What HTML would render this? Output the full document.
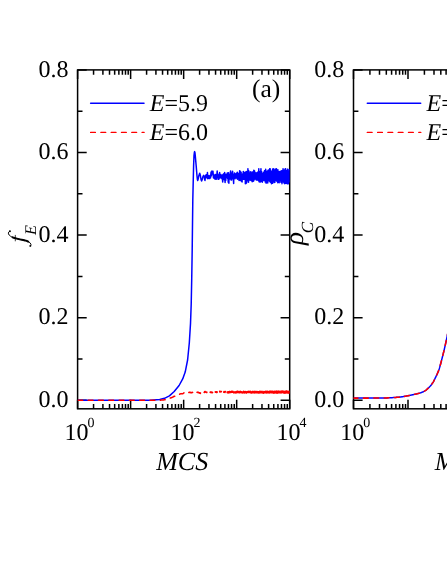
<!DOCTYPE html>
<html><head><meta charset="utf-8"><title>figure</title>
<style>
html,body{margin:0;padding:0;background:#fff;}
body{width:447px;height:578px;overflow:hidden;}
svg{display:block;}
text{font-family:"Liberation Serif",serif;fill:#000;text-rendering:geometricPrecision;}
</style></head><body>
<svg width="447" height="578" viewBox="0 0 447 578">
<rect width="447" height="578" fill="#fff"/>
<defs>
<filter id="ff" x="0" y="0" width="447" height="578" filterUnits="userSpaceOnUse"><feOffset dx="0" dy="0"/></filter>
<clipPath id="ca"><rect x="77.6" y="69.9" width="212.1" height="338.9"/></clipPath>
<clipPath id="cb"><rect x="353.5" y="69.9" width="212.1" height="338.9"/></clipPath>
</defs>
<rect x="77.60" y="69.90" width="212.10" height="338.90" fill="none" stroke="#000" stroke-width="1.5"/>
<path d="M77.60 400.25h9.1M289.70 400.25h-9.1M77.60 358.96h4.9M289.70 358.96h-4.9M77.60 317.67h9.1M289.70 317.67h-9.1M77.60 276.38h4.9M289.70 276.38h-4.9M77.60 235.09h9.1M289.70 235.09h-9.1M77.60 193.80h4.9M289.70 193.80h-4.9M77.60 152.51h9.1M289.70 152.51h-9.1M77.60 111.22h4.9M289.70 111.22h-4.9M77.60 69.93h9.1M289.70 69.93h-9.1M77.60 408.80v-9.1M77.60 69.90v9.1M93.56 408.80v-4.9M93.56 69.90v4.9M102.90 408.80v-4.9M102.90 69.90v4.9M109.52 408.80v-4.9M109.52 69.90v4.9M114.66 408.80v-4.9M114.66 69.90v4.9M118.86 408.80v-4.9M118.86 69.90v4.9M122.41 408.80v-4.9M122.41 69.90v4.9M125.49 408.80v-4.9M125.49 69.90v4.9M128.20 408.80v-4.9M128.20 69.90v4.9M130.62 408.80v-9.1M130.62 69.90v9.1M146.59 408.80v-4.9M146.59 69.90v4.9M155.92 408.80v-4.9M155.92 69.90v4.9M162.55 408.80v-4.9M162.55 69.90v4.9M167.69 408.80v-4.9M167.69 69.90v4.9M171.89 408.80v-4.9M171.89 69.90v4.9M175.44 408.80v-4.9M175.44 69.90v4.9M178.51 408.80v-4.9M178.51 69.90v4.9M181.22 408.80v-4.9M181.22 69.90v4.9M183.65 408.80v-9.1M183.65 69.90v9.1M199.61 408.80v-4.9M199.61 69.90v4.9M208.95 408.80v-4.9M208.95 69.90v4.9M215.57 408.80v-4.9M215.57 69.90v4.9M220.71 408.80v-4.9M220.71 69.90v4.9M224.91 408.80v-4.9M224.91 69.90v4.9M228.46 408.80v-4.9M228.46 69.90v4.9M231.54 408.80v-4.9M231.54 69.90v4.9M234.25 408.80v-4.9M234.25 69.90v4.9M236.67 408.80v-9.1M236.67 69.90v9.1M252.64 408.80v-4.9M252.64 69.90v4.9M261.97 408.80v-4.9M261.97 69.90v4.9M268.60 408.80v-4.9M268.60 69.90v4.9M273.74 408.80v-4.9M273.74 69.90v4.9M277.94 408.80v-4.9M277.94 69.90v4.9M281.49 408.80v-4.9M281.49 69.90v4.9M284.56 408.80v-4.9M284.56 69.90v4.9M287.27 408.80v-4.9M287.27 69.90v4.9M289.70 408.80v-9.1M289.70 69.90v9.1" stroke="#000" stroke-width="1.5" fill="none"/>
<rect x="353.50" y="69.90" width="212.10" height="338.90" fill="none" stroke="#000" stroke-width="1.5"/>
<path d="M353.50 400.25h9.1M565.60 400.25h-9.1M353.50 358.96h4.9M565.60 358.96h-4.9M353.50 317.67h9.1M565.60 317.67h-9.1M353.50 276.38h4.9M565.60 276.38h-4.9M353.50 235.09h9.1M565.60 235.09h-9.1M353.50 193.80h4.9M565.60 193.80h-4.9M353.50 152.51h9.1M565.60 152.51h-9.1M353.50 111.22h4.9M565.60 111.22h-4.9M353.50 69.93h9.1M565.60 69.93h-9.1M353.50 408.80v-9.1M353.50 69.90v9.1M369.91 408.80v-4.9M369.91 69.90v4.9M379.50 408.80v-4.9M379.50 69.90v4.9M386.31 408.80v-4.9M386.31 69.90v4.9M391.59 408.80v-4.9M391.59 69.90v4.9M395.91 408.80v-4.9M395.91 69.90v4.9M399.56 408.80v-4.9M399.56 69.90v4.9M402.72 408.80v-4.9M402.72 69.90v4.9M405.51 408.80v-4.9M405.51 69.90v4.9M408.00 408.80v-9.1M408.00 69.90v9.1M424.41 408.80v-4.9M424.41 69.90v4.9M434.00 408.80v-4.9M434.00 69.90v4.9M440.81 408.80v-4.9M440.81 69.90v4.9M446.09 408.80v-4.9M446.09 69.90v4.9M450.41 408.80v-4.9M450.41 69.90v4.9M454.06 408.80v-4.9M454.06 69.90v4.9M457.22 408.80v-4.9M457.22 69.90v4.9M460.01 408.80v-4.9M460.01 69.90v4.9M462.50 408.80v-9.1M462.50 69.90v9.1M478.91 408.80v-4.9M478.91 69.90v4.9M488.50 408.80v-4.9M488.50 69.90v4.9M495.31 408.80v-4.9M495.31 69.90v4.9M500.59 408.80v-4.9M500.59 69.90v4.9M504.91 408.80v-4.9M504.91 69.90v4.9M508.56 408.80v-4.9M508.56 69.90v4.9M511.72 408.80v-4.9M511.72 69.90v4.9M514.51 408.80v-4.9M514.51 69.90v4.9M517.00 408.80v-9.1M517.00 69.90v9.1M533.41 408.80v-4.9M533.41 69.90v4.9M543.00 408.80v-4.9M543.00 69.90v4.9M549.81 408.80v-4.9M549.81 69.90v4.9M555.09 408.80v-4.9M555.09 69.90v4.9M559.41 408.80v-4.9M559.41 69.90v4.9M563.06 408.80v-4.9M563.06 69.90v4.9M566.22 408.80v-4.9M566.22 69.90v4.9M569.01 408.80v-4.9M569.01 69.90v4.9M571.50 408.80v-9.1M571.50 69.90v9.1" stroke="#000" stroke-width="1.5" fill="none"/>
<g fill="none" stroke-linejoin="round" clip-path="url(#ca)">
<path d="M77.60,400.30 150.00,400.25 159.70,399.50 164.50,398.30 169.40,395.90 174.20,391.50 179.10,385.50 182.70,378.90 185.20,372.10 187.60,360.00 189.30,343.00 190.50,323.60 191.20,304.20 191.70,280.00 192.20,250.00 192.80,200.00 193.10,186.70 193.60,166.00 194.00,155.60 194.40,152.30 194.66,151.60 194.95,152.70 195.30,156.00 196.20,166.00 197.00,176.00 197.40,179.60 197.70,180.50 198.10,179.30 198.90,175.50 199.70,173.20 200.40,175.50 201.10,179.80 201.60,181.00 202.20,179.50 203.00,176.50 203.70,175.30 204.29,176.38 204.66,179.64 205.03,180.45 205.39,176.51 205.74,175.65 206.09,174.79 206.44,177.16 206.78,176.46 207.11,178.18 207.44,172.46 207.77,178.77 208.09,176.93 208.41,178.18 208.72,176.62 209.03,175.49 209.33,177.14 209.63,178.60 209.93,176.61 210.22,176.04 210.51,177.88 210.79,174.73 211.07,172.06 211.35,175.78 211.63,174.48 211.90,170.99 212.17,172.46 212.43,173.82 212.70,172.52 212.96,171.34 213.21,174.65 213.47,177.91 213.72,176.30 213.96,174.49 214.21,176.60 214.45,178.15 214.69,176.22 214.93,177.60 215.17,179.30 215.40,176.84 215.63,174.51 215.86,176.52 216.09,176.98 216.31,179.22 216.53,174.19 216.75,173.95 216.97,173.44 217.19,171.07 217.40,174.78 217.61,177.05 217.82,174.76 218.03,179.14 218.24,179.30 218.44,178.88 218.64,178.18 218.84,179.29 219.04,174.10 219.24,177.03 219.43,178.02 219.63,172.60 219.82,175.85 220.01,175.53 220.20,177.94 220.39,175.80 220.57,176.08 220.76,177.06 220.94,174.43 221.12,177.10 221.30,176.33 221.48,177.51 221.66,175.45 221.84,178.65 222.01,178.60 222.18,176.67 222.36,177.97 222.53,179.95 222.70,181.94 222.87,174.44 223.03,177.80 223.20,177.96 223.36,176.65 223.53,173.97 223.69,178.55 223.85,174.01 224.01,176.88 224.17,179.68 224.33,173.58 224.49,174.61 224.64,172.52 224.80,175.57 224.95,179.73 225.10,182.43 225.25,174.11 225.41,174.13 225.55,177.26 225.70,180.48 225.85,178.79 226.00,175.35 226.14,176.69 226.29,176.40 226.43,175.84 226.58,174.35 226.72,176.56 226.86,177.14 227.00,176.37 227.14,175.78 227.28,172.99 227.42,173.96 227.56,178.42 227.69,176.58 227.83,172.89 227.96,178.36 228.10,178.31 228.23,182.14 228.36,178.50 228.49,175.94 228.63,172.65 228.76,178.25 228.89,183.24 229.01,176.73 229.14,174.87 229.27,177.25 229.40,174.61 229.52,175.05 229.65,175.01 229.77,176.32 229.90,178.97 230.02,177.29 230.14,178.89 230.26,176.18 230.39,177.06 230.51,171.36 230.63,171.04 230.75,176.40 230.86,174.90 230.98,177.22 231.10,177.94 231.22,180.10 231.33,179.61 231.45,179.94 231.57,177.30 231.68,174.95 231.79,174.04 231.91,174.32 232.02,172.85 232.13,173.76 232.24,175.19 232.36,176.52 232.47,175.55 232.58,171.35 232.69,174.39 232.80,176.18 232.91,178.90 233.01,178.62 233.12,175.54 233.23,174.27 233.34,180.49 233.44,179.61 233.55,181.92 233.65,183.46 233.76,176.81 233.86,177.42 233.97,177.81 234.07,178.19 234.17,178.28 234.27,177.49 234.38,177.14 234.48,172.93 234.58,174.72 234.68,173.92 234.78,175.78 234.88,174.98 234.98,177.34 235.08,178.66 235.18,177.88 235.27,177.62 235.37,176.99 235.47,175.45 235.57,175.60 235.66,174.85 235.76,176.74 235.85,176.49 235.95,177.78 236.04,173.58 236.14,177.51 236.23,174.87 236.33,174.01 236.42,175.02 236.51,174.48 236.61,176.37 236.70,174.93 236.79,173.21 236.88,173.16 236.97,178.40 237.06,177.14 237.15,173.75 237.24,175.43 237.33,172.20 237.42,179.23 237.51,173.61 237.60,176.52 237.69,177.70 237.78,173.26 237.86,175.97 237.95,178.61 238.04,178.25 238.13,177.62 238.21,179.07 238.30,177.66 238.38,177.60 238.47,176.45 238.55,177.89 238.64,174.56 238.72,177.62 238.81,175.53 238.89,173.37 238.97,176.17 239.06,180.38 239.14,180.07 239.22,176.36 239.31,178.02 239.39,175.80 239.47,175.82 239.55,176.35 239.63,170.67 239.71,174.80 239.79,173.27 239.87,173.54 239.95,171.74 240.03,171.01 240.11,172.15 240.19,176.86 240.27,180.55 240.35,177.73 240.43,179.46 240.51,176.76 240.58,171.80 240.66,175.09 240.74,176.96 240.82,175.49 240.89,176.75 240.97,177.85 241.05,174.74 241.12,172.16 241.20,174.31 241.27,175.09 241.35,175.02 241.42,178.26 241.50,181.19 241.57,177.00 241.65,178.25 241.72,179.27 241.80,179.08 241.87,179.82 241.94,176.59 242.02,178.20 242.09,181.90 242.16,180.22 242.23,176.16 242.31,177.73 242.38,179.88 242.45,178.45 242.52,175.68 242.59,179.84 242.66,174.49 242.73,176.89 242.81,176.47 242.88,173.45 242.95,178.27 243.02,177.84 243.09,174.00 243.16,176.96 243.22,175.48 243.29,171.38 243.36,172.90 243.43,175.75 243.50,177.66 243.57,177.18 243.64,176.72 243.71,177.59 243.77,176.24 243.84,179.15 243.91,177.66 243.97,177.49 244.04,178.03 244.11,174.33 244.18,173.88 244.24,179.18 244.31,178.12 244.37,176.25 244.44,177.11 244.51,175.41 244.57,176.67 244.64,174.81 244.70,176.45 244.77,172.51 244.83,178.22 244.90,175.72 244.96,172.24 245.09,174.71 245.15,176.11 245.22,173.44 245.28,176.27 245.34,183.84 245.41,176.27 245.47,177.11 245.53,175.83 245.59,176.60 245.66,171.99 245.72,171.99 245.84,176.07 245.90,180.20 245.97,175.95 246.03,176.60 246.09,183.50 246.21,174.33 246.27,175.52 246.39,178.22 246.45,177.29 246.51,174.80 246.57,176.29 246.63,182.73 246.75,171.39 246.81,174.24 246.87,173.45 246.93,176.82 246.99,176.06 247.05,180.92 247.11,180.19 247.17,179.83 247.28,176.79 247.34,177.30 247.40,179.81 247.46,178.83 247.51,176.33 247.57,179.42 247.63,177.86 247.68,176.66 247.80,174.29 247.86,174.05 247.91,168.76 247.97,176.12 248.02,177.62 248.08,176.24 248.14,178.83 248.19,178.25 248.30,170.83 248.36,173.82 248.47,180.37 248.53,182.21 248.64,175.41 248.69,170.63 248.80,176.16 248.85,178.60 248.91,176.80 248.96,177.01 249.02,172.89 249.07,176.20 249.12,175.18 249.18,176.76 249.23,177.58 249.28,176.46 249.34,177.13 249.39,176.56 249.44,178.24 249.50,178.20 249.60,174.63 249.65,179.97 249.71,177.34 249.76,179.08 249.81,178.23 249.91,174.23 249.97,175.87 250.07,177.96 250.12,173.80 250.22,175.25 250.27,179.83 250.33,171.79 250.38,175.79 250.43,174.81 250.48,176.83 250.53,175.29 250.58,176.83 250.63,180.30 250.68,178.56 250.73,178.15 250.83,175.02 250.88,177.17 250.98,174.25 251.03,175.49 251.08,175.46 251.13,177.84 251.18,176.74 251.22,175.16 251.27,179.45 251.32,179.81 251.37,180.62 251.42,179.29 251.47,177.08 251.56,175.36 251.61,178.28 251.71,173.02 251.76,175.06 251.80,172.42 251.85,175.34 251.90,173.03 251.95,172.08 251.99,175.11 252.04,175.69 252.09,172.04 252.14,176.63 252.18,181.69 252.23,174.58 252.28,180.13 252.32,175.96 252.37,174.98 252.42,175.40 252.46,172.46 252.56,178.14 252.60,175.11 252.65,175.21 252.69,172.22 252.74,174.03 252.79,177.79 252.83,172.64 252.88,173.96 252.97,178.69 253.01,180.42 253.10,174.61 253.15,176.81 253.24,175.30 253.28,178.58 253.33,181.22 253.37,178.67 253.42,176.66 253.46,177.82 253.51,172.23 253.55,174.83 253.60,173.20 253.64,181.04 253.68,179.71 253.77,176.37 253.82,170.20 253.90,180.13 253.95,175.86 254.03,178.59 254.08,173.33 254.16,180.04 254.21,178.16 254.25,176.80 254.29,178.39 254.33,173.28 254.38,175.47 254.42,178.58 254.46,174.07 254.55,175.85 254.59,171.07 254.72,175.99 254.76,173.34 254.80,177.82 254.88,176.72 254.93,175.00 255.01,178.77 255.05,177.69 255.09,175.82 255.13,173.08 255.22,178.68 255.26,176.34 255.30,176.91 255.38,173.02 255.42,173.14 255.50,176.94 255.54,174.71 255.58,177.54 255.70,179.26 255.75,176.64 255.79,176.14 255.83,177.40 255.87,176.60 255.91,178.34 255.95,173.96 255.99,178.96 256.03,175.33 256.06,175.56 256.10,172.68 256.18,179.47 256.22,180.02 256.34,173.47 256.38,174.18 256.42,173.28 256.46,177.98 256.50,177.34 256.54,176.60 256.58,177.59 256.65,173.43 256.69,173.15 256.81,178.01 256.85,179.53 256.88,174.12 256.96,175.91 257.00,172.88 257.11,179.55 257.15,180.06 257.23,176.28 257.26,178.92 257.30,176.31 257.38,179.82 257.41,176.64 257.45,174.93 257.56,177.92 257.60,177.25 257.64,177.99 257.67,172.99 257.71,173.05 257.75,175.56 257.86,171.90 257.90,172.52 258.00,175.79 258.04,180.25 258.08,177.32 258.15,178.22 258.19,174.24 258.26,173.44 258.29,177.17 258.33,173.79 258.37,178.65 258.44,172.15 258.47,176.76 258.51,180.24 258.55,175.75 258.58,178.51 258.62,172.69 258.69,172.03 258.72,175.98 258.76,171.83 258.79,168.76 258.86,181.23 258.90,176.58 258.93,178.42 259.00,175.87 259.04,177.65 259.07,180.77 259.11,174.86 259.14,177.17 259.18,177.44 259.21,173.23 259.28,182.05 259.32,175.99 259.35,180.43 259.42,176.46 259.45,180.02 259.52,177.74 259.56,180.50 259.59,180.91 259.69,171.74 259.73,177.45 259.83,173.58 259.86,174.90 259.90,172.69 259.93,179.01 259.96,174.77 260.00,175.47 260.06,178.98 260.10,173.78 260.13,175.34 260.23,177.80 260.26,175.69 260.33,175.52 260.36,177.17 260.39,176.35 260.43,174.72 260.49,176.97 260.52,182.06 260.56,177.12 260.62,180.23 260.66,172.61 260.69,170.76 260.79,181.56 260.82,179.09 260.85,180.22 260.95,168.76 260.98,176.11 261.07,177.96 261.11,173.13 261.14,177.95 261.17,180.42 261.23,173.45 261.27,177.36 261.30,174.00 261.33,177.60 261.36,173.84 261.42,176.92 261.45,175.46 261.52,176.01 261.55,171.59 261.58,173.98 261.61,174.52 261.67,173.61 261.70,179.53 261.74,176.67 261.77,173.66 261.83,181.21 261.89,174.57 261.92,175.73 261.95,174.42 262.01,179.60 262.04,178.41 262.07,177.39 262.13,176.59 262.20,179.20 262.23,176.41 262.29,182.28 262.35,176.94 262.38,181.52 262.44,174.27 262.50,174.43 262.53,174.44 262.56,176.44 262.65,174.27 262.68,174.15 262.80,180.65 262.83,176.47 262.88,180.80 262.94,173.26 262.97,176.34 263.09,179.66 263.12,180.86 263.15,175.33 263.24,175.46 263.27,175.23 263.29,180.50 263.35,173.29 263.38,175.45 263.41,175.66 263.50,172.23 263.53,176.98 263.55,174.25 263.64,173.81 263.67,177.24 263.70,177.56 263.75,173.58 263.81,177.92 263.84,177.17 263.92,175.50 263.95,176.55 263.98,171.90 264.09,178.94 264.12,177.77 264.20,172.07 264.23,175.27 264.26,178.85 264.32,179.17 264.37,173.90 264.40,176.69 264.45,178.03 264.51,173.37 264.54,170.72 264.65,175.30 264.67,174.33 264.70,170.77 264.73,180.41 264.78,173.03 264.81,178.18 264.84,179.80 264.89,172.16 264.92,172.41 264.94,177.69 265.00,174.23 265.05,178.96 265.08,173.84 265.13,172.30 265.19,182.09 265.21,180.64 265.29,171.89 265.32,175.43 265.35,172.74 265.37,171.83 265.45,177.00 265.48,178.25 265.53,174.46 265.58,176.36 265.61,179.20 265.66,169.14 265.71,180.26 265.74,178.83 265.87,175.69 265.90,176.27 265.97,173.09 266.03,178.38 266.05,178.61 266.10,178.23 266.13,183.27 266.18,179.91 266.20,182.33 266.26,177.73 266.33,178.87 266.36,178.09 266.43,178.10 266.48,172.12 266.51,174.48 266.53,171.46 266.64,177.97 266.66,173.32 266.74,180.31 266.79,178.17 266.81,177.17 266.86,179.16 266.88,175.72 266.93,176.48 266.96,176.97 266.98,175.92 267.01,181.39 267.08,177.25 267.11,178.14 267.18,179.31 267.20,173.71 267.23,175.45 267.25,173.03 267.33,172.92 267.38,179.28 267.40,178.78 267.45,180.32 267.50,170.93 267.52,173.42 267.54,174.65 267.59,182.41 267.67,182.14 267.69,180.42 267.74,183.08 267.78,176.09 267.81,176.60 267.83,173.10 267.93,177.48 267.95,174.17 267.97,178.79 268.05,173.03 268.09,174.27 268.12,175.73 268.16,170.40 268.23,177.35 268.26,173.12 268.28,170.05 268.33,174.33 268.37,173.60 268.40,177.46 268.44,179.12 268.47,175.04 268.51,175.79 268.54,172.68 268.63,179.46 268.65,179.30 268.67,179.47 268.70,180.37 268.74,174.38 268.79,178.23 268.81,175.14 268.90,180.85 268.93,180.12 268.95,177.22 269.02,176.72 269.04,179.79 269.06,178.76 269.08,175.35 269.11,179.09 269.17,173.18 269.20,175.19 269.22,173.64 269.26,170.53 269.29,179.53 269.33,177.18 269.35,179.33 269.42,173.56 269.46,175.15 269.49,177.14 269.55,170.73 269.60,176.58 269.62,177.45 269.64,177.71 269.68,168.76 269.73,173.99 269.75,174.04 269.77,176.39 269.84,173.12 269.86,175.55 269.88,176.22 269.92,181.77 269.99,174.14 270.01,174.68 270.05,177.94 270.14,171.89 270.16,168.76 270.21,179.13 270.29,178.03 270.31,170.11 270.44,182.28 270.46,175.89 270.48,172.84 270.53,179.59 270.59,176.03 270.61,173.32 270.67,181.66 270.74,172.56 270.76,174.45 270.80,177.81 270.82,173.33 270.88,176.47 270.90,176.30 270.95,177.57 271.01,174.90 271.03,176.77 271.05,176.17 271.07,171.10 271.13,178.25 271.17,176.17 271.19,176.77 271.26,171.57 271.28,179.13 271.32,174.47 271.34,177.25 271.46,183.84 271.48,176.57 271.54,174.74 271.58,179.91 271.60,175.83 271.62,174.40 271.68,181.67 271.74,176.23 271.76,176.80 271.80,172.89 271.88,174.95 271.90,179.95 271.98,173.70 272.02,176.33 272.04,175.47 272.08,178.38 272.16,174.10 272.18,175.97 272.20,173.34 272.24,177.47 272.30,174.08 272.32,175.83 272.40,173.26 272.42,178.71 272.44,177.87 272.45,177.84 272.49,174.22 272.55,178.85 272.57,177.34 272.59,169.06 272.69,183.35 272.71,182.24 272.73,181.66 272.76,174.39 272.84,177.52 272.86,177.75 272.96,175.36 272.97,177.30 272.99,171.98 273.03,171.43 273.07,176.55 273.11,176.08 273.13,176.39 273.15,180.16 273.20,173.21 273.24,175.92 273.26,174.09 273.30,177.98 273.37,171.13 273.39,174.03 273.41,173.56 273.50,181.02 273.52,179.27 273.61,182.10 273.65,173.67 273.67,168.87 273.72,177.44 273.80,174.99 273.82,176.79 273.83,172.17 273.94,173.17 273.96,172.39 274.02,181.12 274.09,173.03 274.11,169.16 274.23,176.70 274.25,177.60 274.29,175.09 274.36,178.23 274.38,176.21 274.40,173.12 274.49,177.00 274.52,170.74 274.54,176.12 274.57,182.40 274.66,177.28 274.68,173.95 274.72,178.12 274.73,173.67 274.80,177.54 274.82,178.64 274.87,173.14 274.93,182.31 274.94,178.29 274.96,176.88 275.00,181.07 275.08,174.62 275.10,175.33 275.15,170.63 275.21,175.90 275.22,175.16 275.24,176.91 275.27,178.98 275.36,171.73 275.38,174.42 275.39,173.48 275.41,180.52 275.50,175.42 275.51,175.56 275.60,173.67 275.63,179.84 275.65,176.26 275.70,169.05 275.74,178.13 275.77,171.57 275.79,175.25 275.84,179.29 275.89,172.24 275.90,177.55 275.92,177.15 275.95,179.86 276.02,170.44 276.04,173.88 276.05,175.79 276.12,177.52 276.15,171.44 276.17,176.45 276.19,177.80 276.29,170.82 276.30,176.25 276.32,172.60 276.38,172.35 276.43,178.87 276.45,180.25 276.48,168.76 276.56,176.04 276.58,176.88 276.60,172.08 276.68,179.91 276.71,172.66 276.73,180.42 276.78,180.87 276.81,173.40 276.86,173.55 276.87,172.70 276.98,181.44 277.00,181.10 277.02,174.06 277.03,178.50 277.10,171.53 277.14,172.88 277.16,173.11 277.24,179.35 277.29,174.27 277.30,176.39 277.37,173.46 277.43,179.18 277.44,174.38 277.52,172.40 277.55,177.79 277.57,173.84 277.58,170.83 277.71,180.37 277.72,176.67 277.74,172.37 277.79,182.64 277.85,175.67 277.86,176.56 277.89,180.36 277.92,169.84 277.99,175.60 278.00,176.67 278.05,174.39 278.06,179.07 278.12,175.73 278.14,180.73 278.21,172.90 278.26,179.87 278.28,178.69 278.34,179.60 278.37,174.08 278.40,175.30 278.41,177.39 278.43,172.90 278.49,181.39 278.53,173.64 278.55,173.29 278.65,181.25 278.67,177.94 278.68,177.41 278.71,171.68 278.77,178.57 278.80,175.06 278.81,174.64 278.90,178.59 278.93,176.97 278.95,180.83 279.03,173.82 279.06,174.53 279.08,174.65 279.19,182.77 279.21,180.58 279.28,173.56 279.33,175.99 279.34,175.72 279.43,171.39 279.47,172.63 279.48,175.56 279.54,173.48 279.57,177.21 279.61,176.88 279.63,176.83 279.64,180.31 279.71,173.33 279.75,176.61 279.77,176.38 279.83,171.75 279.88,177.07 279.90,175.83 279.91,174.86 279.98,179.32 280.02,173.95 280.04,176.86 280.05,173.21 280.09,179.91 280.15,172.68 280.18,178.97 280.19,179.86 280.25,172.30 280.32,175.24 280.33,177.40 280.38,174.49 280.43,180.46 280.45,177.00 280.47,179.56 280.58,180.30 280.59,172.70 280.60,172.64 280.67,178.91 280.73,175.89 280.74,175.83 280.75,178.69 280.82,171.30 280.86,175.67 280.88,176.27 280.90,182.36 280.94,172.20 281.00,177.88 281.01,175.52 281.02,180.29 281.05,173.68 281.13,176.72 281.14,174.09 281.22,170.82 281.25,177.73 281.26,174.73 281.28,174.66 281.29,171.99 281.40,176.58 281.41,175.89 281.42,180.24 281.50,171.48 281.53,176.16 281.54,173.29 281.61,179.76 281.63,172.57 281.66,179.23 281.67,179.63 281.69,176.49 281.74,182.39 281.79,177.65 281.80,174.32 281.82,173.57 281.93,178.66 281.95,183.84 282.06,172.05 282.07,175.24 282.09,176.84 282.15,178.82 282.20,173.36 282.21,174.66 282.23,174.70 282.29,179.28 282.33,172.46 282.35,175.55 282.37,176.78 282.41,170.41 282.46,177.57 282.49,172.25 282.51,177.55 282.57,182.03 282.58,172.25 282.63,175.84 282.64,176.40 282.74,172.27 282.77,179.60 282.78,179.37 282.82,179.66 282.89,173.51 282.91,178.15 282.92,178.16 283.00,178.58 283.04,168.76 283.05,170.57 283.07,170.46 283.14,180.89 283.18,175.45 283.19,172.53 283.26,180.35 283.31,172.87 283.32,174.59 283.37,171.55 283.40,179.00 283.44,172.49 283.46,173.49 283.48,172.61 283.54,178.42 283.58,178.11 283.59,176.25 283.62,174.35 283.70,179.82 283.71,178.01 283.72,179.70 283.73,180.58 283.80,175.10 283.84,177.01 283.85,177.62 283.87,173.80 283.92,182.85 283.97,180.31 283.98,178.56 283.99,172.81 284.03,181.39 284.11,179.23 284.12,177.54 284.23,171.67 284.25,179.86 284.26,180.13 284.29,180.99 284.32,169.96 284.39,175.03 284.40,178.76 284.41,183.53 284.45,170.20 284.53,175.82 284.54,177.50 284.59,182.15 284.61,173.78 284.67,176.98 284.68,178.94 284.78,173.23 284.80,183.77 284.82,180.44 284.93,172.45 284.94,180.31 284.95,178.34 285.03,169.07 285.07,179.06 285.08,175.73 285.09,175.75 285.14,174.46 285.16,179.82 285.21,177.35 285.22,179.43 285.23,181.24 285.33,172.32 285.35,179.24 285.36,176.36 285.38,172.25 285.42,179.90 285.48,177.43 285.49,175.98 285.54,174.57 285.61,180.78 285.62,170.99 285.64,168.76 285.71,180.17 285.74,173.76 285.75,176.54 285.82,178.85 285.84,173.14 285.87,176.63 285.88,175.48 285.92,171.87 285.98,183.24 286.00,174.20 286.01,175.82 286.03,179.48 286.05,173.05 286.14,176.95 286.15,174.25 286.19,171.48 286.22,179.26 286.28,174.57 286.29,175.21 286.30,172.23 286.42,179.15 286.43,172.47 286.46,172.20 286.55,181.06 286.56,180.07 286.57,179.50 286.58,180.82 286.70,174.89 286.71,178.04 286.77,170.70 286.83,180.81 286.84,178.37 286.86,172.55 286.92,179.95 286.97,176.91 286.98,182.47 287.05,175.41 287.10,179.36 287.11,178.31 287.16,172.76 287.18,183.84 287.24,180.54 287.25,181.63 287.28,171.93 287.37,178.78 287.38,170.60 287.49,179.35 287.50,177.09 287.51,174.95 287.56,179.50 287.61,169.34 287.63,175.06 287.64,177.55 287.69,179.52 287.75,173.19 287.76,178.88 287.77,175.21 287.83,180.07 287.86,169.33 287.90,173.39 287.91,176.83 287.93,182.01 287.97,173.34 288.04,179.03 288.05,183.84 288.17,173.93 288.18,175.33 288.19,179.40 288.24,179.73 288.28,171.84 288.32,172.80 288.33,173.75 288.35,172.76 288.40,183.74 288.45,174.41 288.46,179.02 288.53,172.57 288.55,179.72 288.59,177.49 288.60,177.06 288.68,171.93 288.72,178.95 288.73,179.95 288.74,180.33 288.77,171.19 288.86,174.52 288.87,177.35 288.93,171.13 288.97,180.54 288.99,177.58 289.00,174.04 289.01,172.93 289.11,180.36 289.12,177.40 289.13,174.67 289.20,173.88 289.24,181.48 289.26,175.03 289.27,181.90 289.36,174.53 289.39,178.29 289.40,175.63 289.45,169.72 289.52,181.42 289.53,175.13 289.57,170.28 289.66,179.17 289.67,179.28 289.68,172.25 289.69,173.53" stroke="#0000ff" stroke-width="1.5"/>
<path d="M77.90,400.30 82.70,400.30 M88.20,400.29 93.00,400.29 M98.50,400.29 102.90,400.28 103.30,400.28 M108.80,400.28 109.52,400.28 113.60,400.28 M119.10,400.27 122.41,400.27 123.90,400.27 M129.40,400.27 130.62,400.27 132.82,400.27 134.20,400.27 M139.70,400.26 139.96,400.26 141.45,400.26 142.84,400.26 144.16,400.26 144.50,400.26 M150.00,400.25 150.79,400.25 151.73,400.25 152.63,400.25 153.50,400.25 154.34,400.25 154.80,400.25 M160.30,400.19 160.75,400.16 161.37,400.10 161.97,400.04 162.55,399.97 163.12,399.92 163.67,399.86 164.21,399.78 164.74,399.70 165.07,399.65 M170.32,398.07 170.71,397.90 171.11,397.76 171.50,397.67 171.89,397.46 172.27,397.31 172.64,397.12 173.01,396.97 173.37,396.74 173.73,396.54 174.08,396.38 174.43,396.30 174.73,396.24 M179.67,394.18 179.91,394.09 180.18,393.88 180.44,393.81 180.71,393.69 180.97,393.77 181.22,393.78 181.48,393.72 181.73,393.74 181.98,393.64 182.23,393.71 182.47,393.65 182.71,393.67 182.95,393.46 183.18,393.47 183.42,393.22 183.65,392.95 183.88,392.91 183.96,392.87 M188.85,392.44 188.97,392.50 189.15,392.25 189.33,392.41 189.51,392.22 189.69,392.37 189.87,392.30 190.04,392.45 190.22,392.50 190.39,392.32 190.56,392.53 190.73,392.74 190.90,392.74 191.07,392.71 191.23,392.69 191.40,392.57 191.56,392.73 191.73,392.66 191.89,392.67 192.05,392.57 192.21,392.50 192.36,392.35 192.52,392.55 192.62,392.55 M196.98,392.29 197.06,392.33 197.19,392.35 197.31,392.32 197.44,392.27 197.57,392.39 197.69,392.36 197.82,392.36 197.94,392.39 198.06,392.56 198.19,392.65 198.31,392.70 198.43,392.61 198.55,392.42 198.67,392.56 198.79,392.69 198.91,392.66 199.03,392.72 199.15,392.81 199.26,392.90 199.38,392.99 199.50,392.89 199.61,393.06 199.73,392.85 199.84,392.94 199.95,392.97 200.07,393.05 200.18,393.25 200.29,393.39 200.40,393.16 200.47,393.00 M204.13,392.26 204.19,392.28 204.29,392.26 204.38,392.43 204.47,392.43 204.57,392.14 204.66,392.07 204.75,391.84 204.84,391.46 204.93,391.48 205.03,391.74 205.12,391.81 205.21,391.71 205.30,391.65 205.39,391.87 205.48,391.94 205.57,391.99 205.65,392.02 205.74,392.06 205.83,392.20 205.92,392.30 206.01,392.34 206.09,392.20 206.18,392.29 206.27,392.21 206.35,392.37 206.44,392.21 206.52,392.21 206.61,392.22 206.69,392.06 206.78,392.32 206.82,392.43 M210.18,392.30 210.29,392.16 210.36,392.06 210.44,392.21 210.51,392.11 210.58,392.21 210.65,392.42 210.72,392.37 210.79,392.29 210.86,392.31 210.93,392.31 211.00,392.18 211.07,392.25 211.14,392.53 211.21,392.47 211.28,392.43 211.35,392.28 211.42,392.32 211.49,392.15 211.56,392.02 211.63,392.22 211.70,392.10 211.76,392.26 211.83,392.47 211.90,392.49 211.97,392.55 212.03,392.78 212.10,392.71 212.17,392.59 212.23,392.39 212.30,392.38 212.37,392.57 212.43,392.67 212.53,392.45 M215.26,391.94 215.28,391.99 215.34,391.98 215.40,392.03 215.46,392.18 215.52,391.95 215.57,391.87 215.69,392.00 215.75,391.97 215.86,392.17 215.92,392.01 215.97,391.90 216.03,392.04 216.09,392.11 216.14,391.87 216.20,392.08 216.25,392.17 216.31,392.35 216.37,392.28 216.42,392.24 216.48,392.08 216.53,392.43 216.59,392.39 216.64,392.58 216.70,392.46 216.75,392.46 216.86,392.16 216.92,392.29 216.97,392.11 217.02,392.26 217.08,392.30 217.19,392.08 217.23,392.04 M219.69,391.35 219.77,391.60 219.82,391.68 219.92,391.78 219.96,391.82 220.01,392.11 220.06,391.97 220.11,391.78 220.20,391.54 220.25,391.69 220.29,391.85 220.34,391.74 220.39,391.59 220.48,391.83 220.53,391.48 220.57,391.61 220.62,391.52 220.67,391.71 220.71,391.61 220.76,391.62 220.80,391.47 220.85,391.40 220.90,391.65 220.94,391.80 221.03,391.70 221.08,391.49 221.17,391.55 221.21,391.59 221.26,391.63 221.30,391.53 221.35,391.57 221.38,391.61 M223.78,392.11 223.81,392.21 223.89,391.84 223.93,391.92 224.05,391.57 224.09,391.79 224.13,391.77 224.21,392.10 224.25,392.32 224.37,392.07 224.41,391.98 224.52,392.14 224.56,392.27 224.64,392.15 224.68,392.25 224.72,392.32 224.80,392.47 224.83,392.40 224.87,392.43 224.95,392.04 224.99,392.12 225.03,392.12 225.06,392.16 225.14,391.91 225.18,391.85 225.25,391.49 225.29,391.51 225.33,391.68 225.37,391.78 M227.13,392.15 227.21,392.04 227.25,392.21 227.28,392.51 227.31,392.74 227.38,392.68 227.42,392.84 227.52,392.55 227.56,392.57 227.66,391.98 227.69,392.09 227.76,391.99 227.79,392.03 227.83,392.12 227.90,392.15 227.93,392.04 227.96,392.00 228.00,391.87 228.06,392.06 228.10,391.97 228.16,391.92 228.20,392.04 228.23,391.83 228.30,391.71 228.33,392.09 228.36,392.22 228.40,392.20 228.46,392.56 228.49,392.50 M227.73,391.99 227.76,391.99 227.83,392.12 227.86,392.08 227.90,392.15 227.96,392.00 228.00,391.87 228.06,392.06 228.10,391.97 228.13,391.93 228.20,392.04 228.23,391.83 228.26,391.72 228.30,391.71 228.36,392.22 228.40,392.20 228.46,392.56 228.49,392.49 228.53,392.41 228.63,392.63 228.66,392.52 228.76,392.92 228.79,392.95 228.89,392.58 228.92,392.60 228.95,392.65 229.08,392.22 229.11,392.17 229.21,391.74 229.24,391.94 229.27,392.00 229.33,392.42 229.40,392.14 229.43,392.02 229.55,391.62 229.58,391.72 229.62,391.55 229.71,391.68 229.74,391.71 229.83,391.46 229.87,391.52 229.90,391.82 229.99,392.38 230.02,392.27 230.05,392.45 230.17,392.32 230.20,392.25 230.29,392.03 230.32,392.35 230.36,392.32 230.45,392.41 230.48,392.24 230.51,392.20 230.63,392.53 230.66,392.41 230.75,392.49 230.78,392.20 230.81,392.10 230.83,392.04 230.92,392.40 230.95,392.17 230.98,392.26 231.04,392.12 231.07,392.19 231.10,392.07 231.22,391.57 231.25,391.68 231.30,392.01 231.36,391.80 231.39,391.73 231.45,391.53 231.51,391.60 231.54,391.39 231.65,391.74 231.68,391.86 231.79,392.20 231.82,392.25 231.91,392.01 231.94,392.05 231.96,391.88 232.02,392.14 232.08,391.76 232.10,391.76 232.13,391.78 232.22,391.72 232.24,391.83 232.27,391.76 232.36,392.32 232.38,392.17 232.49,391.96 232.52,391.92 232.55,391.93 232.63,391.70 232.66,391.46 232.69,391.33 232.77,391.48 232.80,391.30 232.91,391.67 232.93,391.59 232.96,391.73 233.04,391.52 233.07,391.77 233.17,392.11 233.20,392.03 233.23,392.02 233.28,392.45 233.31,392.35 233.34,392.32 233.39,392.50 233.44,392.14 233.47,392.11 233.57,392.34 233.60,392.43 233.63,392.26 233.71,392.68 233.73,392.67 233.78,392.84 233.84,392.59 233.86,392.61 233.89,392.67 233.99,392.48 234.02,392.43 234.15,392.17 234.17,392.25 234.25,391.99 234.30,392.47 234.33,392.71 234.43,392.62 234.45,392.79 234.48,392.55 234.55,392.75 234.60,392.58 234.63,392.58 234.65,392.64 234.75,392.19 234.78,392.31 234.88,392.49 234.90,392.40 234.93,392.28 234.98,392.40 235.00,392.19 235.05,392.24 235.08,392.09 235.10,392.26 235.18,392.02 235.20,392.15 235.23,392.31 235.25,392.24 235.30,392.37 235.35,392.30 235.37,392.28 235.49,392.07 235.52,392.02 235.64,392.52 235.66,392.79 235.73,392.59 235.78,392.97 235.81,392.64 235.83,392.46 235.90,392.65 235.93,392.60 235.95,392.62 236.02,392.70 236.04,392.35 236.07,392.42 236.09,392.26 236.12,392.37 236.21,392.11 236.23,391.99 236.26,391.79 236.33,392.08 236.35,392.06 236.37,392.21 236.42,392.19 236.47,392.39 236.49,392.33 236.51,392.28 236.58,392.12 236.63,392.20 236.65,392.25 236.67,392.13 236.77,392.44 236.79,392.46 236.84,392.75 236.90,392.54 236.93,392.52 237.04,391.83 237.06,391.91 237.18,391.68 237.20,391.49 237.27,391.15 237.31,391.38 237.33,391.53 237.36,391.41 237.44,391.70 237.47,391.98 237.51,392.05 237.53,391.93 237.58,392.00 237.60,392.13 237.64,392.36 237.69,392.04 237.71,392.17 237.73,392.12 237.80,391.82 237.84,392.22 237.86,392.37 237.93,392.03 237.97,392.06 238.00,391.98 238.04,392.23 238.10,391.83 238.13,391.76 238.15,391.50 238.25,392.19 238.28,392.03 238.32,392.31 238.40,391.85 238.43,392.08 238.47,391.65 238.55,391.81 238.57,391.81 238.60,391.99 238.66,391.70 238.70,391.82 238.72,391.73 238.74,391.68 238.85,392.45 238.87,392.23 238.93,392.65 239.00,392.45 239.02,392.40 239.12,392.07 239.14,392.07 239.16,391.96 239.18,391.95 239.26,392.27 239.28,392.27 239.31,392.24 239.37,392.13 239.39,392.31 239.43,392.19 239.45,392.12 239.53,392.14 239.57,391.75 239.59,391.68 239.61,391.46 239.67,391.84 239.71,391.63 239.73,391.91 239.83,392.62 239.85,392.60 239.87,392.60 239.89,392.65 239.99,392.18 240.01,392.19 240.03,392.50 240.13,392.45 240.15,392.36 240.27,391.89 240.29,391.86 240.33,391.98 240.41,391.57 240.43,391.84 240.45,391.57 240.55,391.63 240.56,391.68 240.58,391.71 240.66,391.47 240.68,391.56 240.70,391.70 240.82,392.47 240.84,392.42 240.87,392.46 240.95,392.14 240.97,391.90 240.99,391.81 241.05,392.13 241.08,392.10 241.10,391.99 241.18,392.36 241.22,392.12 241.24,392.01 241.27,391.70 241.35,391.90 241.37,392.09 241.42,391.94 241.48,392.26 241.50,392.41 241.55,392.73 241.61,392.44 241.63,392.37 241.68,392.25 241.76,392.59 241.78,392.69 241.87,392.01 241.91,392.22 241.92,392.15 241.94,391.99 241.96,392.28 242.05,392.05 242.07,392.16 242.11,391.98 242.20,392.09 242.22,392.48 242.23,392.35 242.34,392.72 242.36,392.71 242.40,392.47 242.49,392.80 242.50,392.95 242.57,392.21 242.63,392.44 242.65,392.49 242.68,392.77 242.77,392.47 242.79,392.44 242.81,392.63 242.86,392.23 242.91,392.33 242.93,392.41 243.05,391.87 243.07,391.92 243.17,392.46 243.19,392.44 243.21,392.38 243.22,392.15 243.31,392.81 243.33,392.62 243.35,392.75 243.47,392.46 243.48,392.26 243.60,391.44 243.62,391.29 243.67,391.84 243.74,391.79 243.76,391.78 243.77,392.04 243.87,391.71 243.89,391.62 243.97,392.01 244.01,391.77 244.03,391.86 244.06,391.56 244.14,392.09 244.16,391.94 244.21,392.38 244.27,392.18 244.29,391.84 244.41,392.90 244.42,392.83 244.52,391.89 244.54,391.89 244.55,391.90 244.62,392.47 244.67,392.39 244.69,392.20 244.75,392.24 244.81,391.90 244.83,391.76 244.96,392.39 244.98,392.41 244.99,392.46 245.10,391.73 245.12,391.78 245.18,391.56 245.23,392.11 245.25,392.07 245.26,392.27 245.33,391.79 245.36,392.39 245.39,392.24 245.41,392.21 245.45,391.93 245.53,392.54 245.55,392.41 245.56,392.42 245.59,391.97 245.67,391.98 245.69,391.95 245.72,391.85 245.75,392.08 245.81,391.97 245.83,392.12 245.86,392.56 245.95,392.00 245.97,391.96 246.03,391.86 246.09,392.50 246.10,392.67 246.12,392.59 246.23,393.01 246.24,393.10 246.35,392.41 246.36,392.44 246.38,392.22 246.42,392.67 246.50,392.32 246.51,392.40 246.53,392.78 246.63,392.47 246.65,392.64 246.77,392.30 246.78,392.38 246.90,391.79 246.92,392.02 247.02,392.44 247.03,392.41 247.05,392.40 247.09,392.52 247.14,392.22 247.17,392.39 247.18,392.35 247.24,391.83 247.30,392.17 247.31,392.26 247.33,392.25 247.35,392.59 247.43,392.42 247.44,392.37 247.57,391.71 247.58,391.83 247.60,391.69 247.67,391.98 247.71,391.97 247.73,392.13 247.81,391.42 247.86,391.54 247.87,391.65 247.88,391.60 248.00,392.04 248.01,391.93 248.11,391.80 248.12,392.12 248.14,392.07 248.15,392.01 248.18,391.94 248.28,392.59 248.29,392.36 248.35,391.96 248.42,391.96 248.43,392.03 248.53,391.73 248.55,391.96 248.57,391.83 248.62,392.23 248.68,391.65 248.69,391.65 248.70,391.63 248.72,391.69 248.83,391.17 248.84,391.26 248.87,391.56 248.96,391.52 248.98,391.48 249.10,392.52 249.11,392.51 249.23,392.01 249.24,392.01 249.26,392.11 249.35,391.71 249.36,391.85 249.38,391.84 249.42,391.81 249.43,392.14 249.50,392.00 249.51,392.25 249.54,391.91 249.59,392.48 249.63,392.10 249.64,391.91 249.75,392.56 249.76,392.36 249.77,392.39 249.78,392.55 249.88,392.09 249.89,392.14 249.90,392.15 249.99,392.49 250.03,392.35 250.04,392.19 250.17,391.38 250.19,391.55 250.21,391.36 250.31,392.02 250.33,391.97 250.45,392.62 250.47,392.47 250.52,392.61 250.58,392.21 250.59,392.28 250.60,392.00 250.73,391.58 250.74,391.68 250.75,391.59 250.87,392.36 250.88,392.35 251.00,392.79 251.02,392.72 251.06,392.87 251.11,392.34 251.14,392.60 251.15,392.68 251.20,392.78 251.27,392.38 251.29,392.05 251.33,391.97 251.38,392.52 251.41,392.50 251.42,392.44 251.47,392.48 251.54,392.17 251.55,392.16 251.59,392.00 251.65,392.71 251.67,392.64 251.69,392.64 251.73,392.95 251.77,392.61 251.80,392.65 251.82,392.73 251.83,392.84 251.94,391.99 251.95,392.08 251.96,392.29 252.04,391.81 252.07,391.97 252.08,391.96 252.11,391.81 252.17,392.29 252.21,392.25 252.22,392.43 252.31,391.57 252.35,391.72 252.36,391.84 252.49,392.48 252.50,392.63 252.57,392.65 252.63,392.03 252.64,391.93 252.69,391.99 252.76,391.60 252.77,391.64 252.90,392.19 252.91,392.23 252.92,392.39 253.03,392.02 253.04,392.07 253.05,391.99 253.06,391.69 253.12,392.18 253.17,391.95 253.18,391.89 253.19,391.86 253.28,392.77 253.31,392.51 253.32,392.29 253.35,392.48 253.43,391.81 253.44,391.85 253.45,391.88 253.48,391.57 253.57,392.28 253.58,392.14 253.67,392.55 253.71,392.08 253.72,392.07 253.80,392.62 253.84,392.49 253.85,392.33 253.87,392.26 253.97,392.54 253.98,392.43 254.05,392.46 254.09,391.88 254.11,392.39 254.12,392.30 254.14,392.25 254.24,392.59 254.25,392.43 254.26,392.31 254.30,392.17 254.39,392.72 254.40,392.90 254.51,391.87 254.53,392.13 254.54,392.10 254.63,391.57 254.66,392.04 254.67,392.01 254.71,391.47 254.80,391.73 254.81,391.88 254.85,391.38 254.91,392.01 254.94,391.86 254.95,391.79 255.05,392.27 255.07,392.20 255.08,392.50 255.10,392.69 255.20,391.91 255.21,391.95 255.22,391.87 255.27,391.73 255.30,392.27 255.34,392.12 255.35,392.32 255.40,392.76 255.47,392.23 255.48,392.01 255.49,391.89 255.53,392.58 255.60,392.10 255.61,391.96 255.74,392.36 255.75,392.11 255.80,391.94 255.87,392.30 255.88,392.19 255.89,392.33 256.00,391.41 256.01,391.51 256.02,391.72 256.08,391.63 256.13,392.02 256.14,392.01 256.15,392.08 256.19,392.03 256.28,392.73 256.29,392.75 256.39,391.72 256.42,392.45 256.43,392.54 256.47,391.76 256.56,392.19 256.57,392.00 256.59,392.48 256.69,392.29 256.70,392.26 256.72,392.30 256.83,391.79 256.84,391.72 256.85,391.60 256.93,391.96 256.96,391.85 256.97,391.92 256.99,391.83 257.04,392.31 257.09,391.98 257.10,391.97 257.14,391.79 257.23,392.85 257.24,392.77 257.34,391.71 257.36,391.99 257.37,392.01 257.43,392.58 257.49,391.91 257.50,391.79 257.55,391.65 257.62,392.02 257.63,391.97 257.73,392.71 257.76,392.50 257.77,392.48 257.90,391.93 257.90,391.67 258.00,392.45 258.03,392.07 258.04,392.35 258.11,391.77 258.17,392.02 258.18,391.91 258.23,391.91 258.29,392.25 258.30,392.20 258.31,392.16 258.35,392.01 258.43,392.90 258.44,392.86 258.45,392.64 258.46,392.77 258.48,392.13 258.57,392.63 258.58,392.64 258.65,391.88 258.71,392.01 258.71,391.98 258.75,391.90 258.81,392.33 258.84,392.14 258.85,391.99 258.94,391.84 258.97,392.28 258.98,392.35 259.01,391.99 259.07,392.81 259.10,392.56 259.11,392.72 259.14,392.54 259.23,392.93 259.24,392.79 259.27,392.88 259.31,392.29 259.37,392.68 259.38,392.55 259.45,391.58 259.51,391.95 259.51,392.27 259.52,392.42 259.63,391.89 259.64,391.97 259.65,391.85 259.68,392.33 259.78,392.16 259.79,391.92 259.80,392.23 259.87,391.62 259.91,392.09 259.92,392.10 260.04,391.48 260.05,391.50 260.05,391.39 260.06,391.31 260.18,392.52 260.19,392.50 260.25,392.23 260.31,392.72 260.32,392.50 260.38,392.08 260.44,392.19 260.45,392.30 260.46,392.49 260.49,391.67 260.57,392.21 260.58,392.10 260.66,391.44 260.70,391.87 260.71,391.93 260.74,391.57 260.84,392.19 260.85,392.08 260.89,392.61 260.97,391.81 260.98,391.81 260.99,391.88 261.02,392.38 261.11,391.99 261.12,391.92 261.16,391.66 261.20,392.29 261.25,392.07 261.26,392.21 261.35,391.76 261.38,392.02 261.39,392.14 261.41,391.87 261.49,392.72 261.52,392.59 261.52,392.59 261.54,392.64 261.65,391.67 261.66,391.75 261.77,392.60 261.78,392.21 261.79,392.45 261.80,392.46 261.91,391.44 261.92,391.43 261.94,391.36 262.01,391.84 262.04,391.64 262.05,391.78 262.09,392.21 262.17,391.64 262.18,392.14 262.19,392.15 262.21,392.48 262.31,391.93 262.32,392.16 262.32,392.14 262.40,392.38 262.44,391.83 262.45,392.10 262.46,392.38 262.54,392.80 262.59,392.13 262.60,392.19 262.64,392.98 262.72,392.21 262.73,392.23 262.76,392.10 262.80,392.61 262.86,392.31 262.86,392.29 262.96,392.02 262.98,392.57 262.99,392.43 263.00,392.39 263.02,392.08 263.11,392.50 263.12,392.43 263.13,392.22 263.13,392.08 263.19,392.75 263.25,392.58 263.26,392.51 263.34,392.18 263.37,392.64 263.38,392.62 263.39,392.61 263.45,392.36 263.49,392.99 263.52,392.88 263.53,392.88 263.59,393.18 263.65,392.22 263.66,392.30 263.68,392.34 263.77,391.69 263.79,391.88 263.80,391.96 263.82,391.64 263.88,392.37 263.92,391.99 263.93,391.95 264.05,392.43 264.06,392.32 264.06,392.12 264.15,392.28 264.18,391.74 264.19,391.86 264.20,391.78 264.25,391.71 264.26,392.08 264.32,391.99 264.33,392.01 264.36,392.19 264.43,391.66 264.45,391.96 264.46,392.12 264.47,392.05 264.53,392.49 264.58,392.30 264.59,392.44 264.65,392.17 264.70,392.65 264.72,392.52 264.73,392.35 264.78,392.57 264.86,391.82 264.86,391.62 264.90,391.55 264.99,392.27 265.00,392.11 265.09,391.86 265.10,392.23 265.13,392.08 265.13,392.24 265.17,392.48 265.26,391.87 265.27,391.88 265.33,392.78 265.39,392.38 265.40,392.19 265.43,392.32 265.46,391.54 265.52,391.95 265.53,391.96 265.56,392.33 265.60,391.61 265.66,391.93 265.66,391.96 265.72,392.26 265.74,391.72 265.79,391.93 265.79,391.84 265.81,392.04 265.91,391.55 265.92,391.77 265.93,391.83 265.96,391.79 266.03,392.41 266.06,392.24 266.06,391.95 266.07,391.94 266.13,392.64 266.19,392.35 266.20,392.29 266.29,391.31 266.33,391.51 266.33,391.83 266.46,392.51 266.47,392.11 266.50,391.91 266.57,392.56 266.59,392.45 266.60,392.62 266.64,392.91 266.68,392.02 266.72,392.26 266.73,392.17 266.74,391.91 266.85,392.53 266.86,392.59 266.90,393.01 266.98,392.30 266.98,392.40 266.99,392.17 267.00,392.27 267.11,391.66 267.12,391.78 267.13,391.75 267.16,391.51 267.20,392.14 267.25,391.96 267.26,391.91 267.27,392.13 267.36,391.63 267.39,392.06 267.39,392.21 267.41,391.94 267.51,392.49 267.52,392.41 267.53,392.14 267.56,391.80 267.63,392.48 267.65,392.12 267.66,392.29 267.68,392.72 267.74,391.60 267.78,392.33 267.79,392.36 267.82,392.06 267.86,392.62 267.92,392.35 267.92,392.58 267.93,392.68 268.02,392.13 268.05,392.24 268.05,392.17 268.12,391.77 268.16,392.30 268.18,392.11 268.19,392.27 268.22,391.69 268.31,392.32 268.32,392.26 268.32,392.29 268.34,392.54 268.38,391.77 268.45,392.11 268.45,392.01 268.47,392.01 268.58,392.52 268.58,392.35 268.59,392.35 268.61,392.47 268.70,391.80 268.71,391.88 268.72,391.68 268.73,391.51 268.83,392.20 268.85,392.07 268.85,392.13 268.86,392.05 268.93,392.63 268.98,392.44 268.98,392.73 268.99,392.86 269.08,391.91 269.11,392.25 269.12,392.31 269.15,392.94 269.17,392.30 269.25,392.77 269.25,392.88 269.31,392.33 269.35,393.00 269.38,392.59 269.39,392.60 269.39,392.78 269.50,391.67 269.51,391.74 269.52,391.77 269.54,391.59 269.65,392.56 269.65,392.56 269.66,392.84 269.77,392.03 269.78,392.19 269.78,392.32 269.91,391.48 269.91,391.47 269.92,391.10 269.96,391.69 270.04,391.37 270.04,391.44 270.05,391.38 270.13,392.23 270.17,391.79 270.18,391.74 270.25,391.46 270.30,392.08 270.31,392.03 270.31,392.09 270.34,392.05 270.39,392.55 270.44,392.27 270.45,392.44 270.45,392.46 270.52,391.46 270.57,392.15 270.58,392.31 270.63,392.39 270.66,391.52 270.70,392.27 270.71,392.18 270.74,392.54 270.82,391.81 270.84,392.12 270.84,391.94 270.91,391.58 270.97,392.30 270.97,392.47 271.06,392.82 271.09,392.01 271.10,392.04 271.11,391.97 271.14,392.28 271.21,391.51 271.23,391.88 271.24,391.90 271.27,391.61 271.31,392.28 271.37,392.03 271.37,392.33 271.38,392.51 271.45,391.88 271.50,392.29 271.51,392.20 271.55,391.68 271.58,392.24 271.63,392.17 271.64,391.94 271.66,392.58 271.73,391.90 271.76,392.16 271.77,391.93 271.80,391.31 271.88,392.15 271.89,392.11 271.90,392.04 271.92,392.48 272.03,391.50 272.03,391.52 272.11,392.74 272.16,392.30 272.17,392.20 272.18,391.83 272.29,392.58 272.29,392.52 272.30,392.43 272.31,392.59 272.38,391.38 272.43,391.64 272.43,391.49 272.48,391.16 272.54,392.00 272.56,391.76 272.56,391.66 272.57,391.64 272.65,392.44 272.69,392.12 272.69,392.25 272.70,392.03 272.81,392.83 272.82,392.60 272.83,392.49 272.84,392.74 272.91,391.83 272.96,392.03 272.96,391.94 273.02,391.69 273.06,392.85 273.09,392.08 273.09,392.01 273.19,392.86 273.22,392.64 273.23,392.66 273.25,392.80 273.27,392.06 273.35,392.34 273.36,392.45 273.38,392.48 273.46,391.84 273.48,391.86 273.49,391.90 273.53,391.41 273.61,392.22 273.62,392.11 273.62,392.18 273.63,392.10 273.66,392.51 273.75,392.50 273.76,392.43 273.85,391.70 273.88,392.20 273.89,392.31 273.90,392.29 273.97,393.10 274.02,392.48 274.02,392.44 274.06,392.05 274.11,392.78 274.15,392.20 274.15,392.14 274.18,391.75 274.23,392.53 274.28,392.29 274.28,392.24 274.35,392.34 274.40,391.38 274.41,391.60 274.41,391.47 274.42,391.46 274.54,392.84 274.55,392.65 274.55,392.67 274.62,391.98 274.68,392.60 274.68,392.61 274.76,392.85 274.80,391.89 274.81,391.94 274.81,391.84 274.86,392.21 274.91,391.56 274.94,392.20 274.94,392.11 275.03,392.79 275.07,392.79 275.08,392.90 275.19,391.62 275.20,391.87 275.21,391.71 275.24,391.16 275.33,392.25 275.33,392.12 275.34,392.04 275.39,391.72 275.45,392.43 275.47,391.74 275.47,391.82 275.55,392.71 275.60,392.25 275.60,392.32 275.61,392.37 275.70,391.62 275.73,391.63 275.74,391.59 275.74,391.47 275.86,392.18 275.87,392.34 275.88,392.64 275.91,392.00 276.00,392.33 276.00,392.27 276.03,392.13 276.07,392.71 276.13,392.33 276.13,392.55 276.21,392.60 276.26,391.88 276.27,391.74 276.34,392.36 276.38,391.63 276.39,391.68 276.40,391.56 276.40,391.38 276.50,392.79 276.52,392.05 276.53,392.10 276.55,392.40 276.61,391.64 276.65,392.19 276.66,392.21 276.66,392.26 276.74,391.08 276.79,392.25 276.79,392.27 276.84,392.01 276.89,393.24 276.92,392.90 276.92,392.90 276.97,393.13 277.04,391.58 277.05,391.62 277.06,391.73 277.08,392.82 277.18,391.97 277.19,392.20 277.22,392.46 277.29,391.47 277.31,392.27 277.32,392.27 277.34,392.58 277.39,391.40 277.45,391.97 277.45,391.94 277.51,391.86 277.53,392.50 277.58,392.32 277.58,392.31 277.62,392.13 277.71,392.61 277.71,392.36 277.72,392.30 277.74,392.65 277.81,391.68 277.84,391.82 277.85,391.72 277.86,391.62 277.95,392.38 277.97,392.30 277.98,392.37 278.02,392.96 278.06,392.18 278.11,392.71 278.11,392.64 278.14,392.78 278.24,392.08 278.25,392.05 278.25,391.91 278.31,392.64 278.37,392.39 278.38,392.44 278.46,392.46 278.50,391.70 278.51,392.19 278.51,392.16 278.52,392.68 278.64,391.81 278.64,391.46 278.68,391.20 278.72,392.22 278.77,391.88 278.77,391.82 278.81,392.07 278.85,391.13 278.90,391.77 278.91,391.93 278.96,391.57 278.99,392.37 279.03,391.85 279.04,391.95 279.06,391.66 279.15,392.27 279.17,392.06 279.17,392.17 279.19,391.59 279.22,392.42 279.30,391.95 279.30,391.87 279.31,392.19 279.38,391.40 279.43,392.03 279.43,392.00 279.51,391.73 279.55,392.69 279.56,392.52 279.57,392.49 279.60,392.56 279.68,391.81 279.69,392.24 279.70,392.12 279.72,392.66 279.82,392.09 279.83,392.16 279.83,392.37 279.86,392.38 279.90,391.73 279.96,391.87 279.96,391.93 280.07,391.53 280.09,392.37 280.09,392.32 280.12,392.99 280.20,391.99 280.22,392.36 280.23,392.08 280.27,391.31 280.32,392.32 280.35,392.16 280.36,392.26 280.38,391.76 280.48,392.80 280.48,392.76 280.49,392.73 280.49,392.75 280.61,391.50 280.62,391.67 280.73,392.47 280.75,392.14 280.75,392.23 280.80,391.62 280.85,392.43 280.88,391.87 280.88,392.05 280.95,391.87 280.98,392.43 281.01,392.12 281.01,392.04 281.02,391.86 281.13,392.50 281.14,392.44 281.14,392.26 281.20,391.66 281.23,392.56 281.27,392.05 281.28,392.09 281.29,391.73 281.37,392.62 281.41,392.02 281.41,392.02 281.44,392.63 281.53,391.36 281.54,391.53 281.54,391.67 281.62,392.85 281.67,392.21 281.67,392.32 281.75,391.31 281.79,392.43 281.80,392.23 281.80,392.26 281.86,392.58 281.90,391.90 281.93,392.02 281.94,392.19 281.95,392.56 281.98,391.77 282.06,391.78 282.07,392.00 282.11,392.02 282.16,391.30 282.20,391.90 282.20,391.92 282.22,392.12 282.31,391.61 282.33,391.74 282.33,391.59 282.33,391.27 282.39,392.39 282.46,392.28 282.46,392.05 282.50,391.58 282.54,392.54 282.59,391.68 282.59,391.73 282.69,391.37 282.72,392.05 282.73,392.10 282.76,391.45 282.84,392.50 282.85,392.11 282.86,392.20 282.93,392.57 282.98,391.81 282.99,391.89 282.99,391.79 283.09,392.64 283.12,392.32 283.12,392.40 283.17,391.66 283.25,392.19 283.25,392.11 283.34,391.82 283.38,392.46 283.38,392.36 283.38,392.37 283.41,391.63 283.49,392.44 283.51,392.19 283.52,392.12 283.52,392.02 283.59,392.99 283.65,392.19 283.65,392.17 283.67,392.78 283.75,391.69 283.78,392.05 283.78,392.09 283.80,392.52 283.83,391.59 283.91,392.23 283.91,392.21 283.92,392.89 283.95,391.59 284.04,392.16 284.04,392.36 284.06,391.95 284.09,392.79 284.17,392.26 284.18,392.15 284.20,392.66 284.26,391.65 284.30,392.57 284.31,392.67 284.35,391.83 284.43,392.97 284.43,392.77 284.44,392.72 284.51,392.89 284.56,392.06 284.57,392.25 284.57,392.09 284.63,392.56 284.66,391.62 284.70,392.06 284.70,392.32 284.71,392.67 284.83,391.79 284.83,392.01 284.83,392.15 284.88,393.24 284.96,391.95 284.96,392.24 284.99,392.57 285.03,391.86 285.09,392.22 285.10,392.20 285.17,392.04 285.21,392.82 285.23,392.41 285.23,392.38 285.33,392.94 285.35,391.91 285.36,391.94 285.36,391.97 285.39,392.39 285.43,391.36 285.49,392.02 285.49,392.07 285.51,391.75 285.56,392.73 285.62,392.47 285.62,392.46 285.65,392.95 285.72,391.81 285.75,391.92 285.75,391.83 285.76,391.58 285.86,392.48 285.88,391.58 285.88,391.73 285.95,392.46 286.01,391.40 286.01,391.60 286.01,391.67 286.05,392.36 286.14,391.29 286.14,391.50 286.15,391.61 286.19,392.93 286.25,391.43 286.27,392.06 286.28,392.24 286.33,392.71 286.37,391.55 286.41,392.67 286.41,392.51 286.47,391.22 286.54,391.81 286.54,392.01 286.63,391.70 286.66,392.78 286.67,392.57 286.67,392.38 286.71,392.76 286.77,391.29 286.80,392.20 286.80,392.37 286.89,392.38 286.92,391.46 286.93,391.65 286.93,391.84 286.95,391.22 287.03,392.80 287.06,392.08 287.07,392.14 287.14,391.31 287.19,392.48 287.19,392.28 287.20,392.20 287.24,392.46 287.30,391.55 287.32,391.85 287.33,391.99 287.34,392.23 287.38,391.54 287.46,392.10 287.46,391.94 287.47,391.64 287.51,392.36 287.59,391.80 287.59,392.00 287.61,391.45 287.66,392.54 287.72,392.11 287.72,392.11 287.73,391.90 287.79,392.94 287.85,392.38 287.85,392.22 287.89,392.81 287.93,391.71 287.98,392.39 287.98,392.38 288.00,393.24 288.05,391.75 288.11,392.07 288.12,392.07 288.17,391.36 288.24,392.57 288.24,392.02 288.25,392.28 288.29,393.03 288.38,391.83 288.38,391.69 288.45,391.66 288.48,392.51 288.51,391.71 288.51,391.86 288.57,392.75 288.64,391.98 288.64,392.07 288.65,391.88 288.71,392.90 288.77,392.27 288.77,392.18 288.78,391.76 288.89,392.88 288.90,392.46 288.90,392.38 288.92,392.83 288.98,391.83 289.03,392.53 289.03,392.57 289.09,391.72 289.13,392.61 289.16,392.29 289.16,392.24 289.24,391.77 289.27,392.76 289.29,392.18 289.30,392.11 289.37,392.65 289.42,391.56 289.42,391.97 289.43,391.97 289.46,392.89 289.50,391.73 289.55,392.11 289.56,392.12 289.65,392.27 289.68,391.23 289.69,391.56 289.69,391.68 289.70,392.12 289.70,391.89" stroke="#ff0000" stroke-width="1.55" stroke-linecap="round"/>
</g>
<g fill="none" stroke-linejoin="round" clip-path="url(#cb)">
<path d="M353.60,398.10 354.00,398.10 354.40,398.10 354.80,398.10 355.20,398.10 355.60,398.10 356.00,398.10 356.40,398.10 356.80,398.10 357.20,398.10 357.60,398.10 358.00,398.10 358.40,398.10 358.80,398.10 359.20,398.10 359.60,398.10 360.00,398.10 360.40,398.10 360.80,398.10 361.20,398.10 361.60,398.10 362.00,398.10 362.40,398.10 362.80,398.10 363.20,398.10 363.60,398.10 364.00,398.10 364.40,398.10 364.80,398.10 365.20,398.10 365.60,398.10 366.00,398.10 366.40,398.10 366.80,398.10 367.20,398.10 367.60,398.10 368.00,398.10 368.40,398.10 368.80,398.10 369.20,398.10 369.60,398.10 370.00,398.10 370.40,398.10 370.80,398.10 371.20,398.10 371.60,398.10 372.00,398.10 372.40,398.10 372.80,398.09 373.20,398.09 373.60,398.09 374.00,398.09 374.40,398.09 374.80,398.09 375.20,398.08 375.60,398.08 376.00,398.08 376.40,398.08 376.80,398.07 377.20,398.07 377.60,398.07 378.00,398.06 378.40,398.06 378.80,398.05 379.20,398.05 379.60,398.05 380.00,398.04 380.40,398.04 380.80,398.03 381.20,398.03 381.60,398.02 382.00,398.02 382.40,398.01 382.80,398.01 383.20,398.00 383.60,398.00 384.00,397.99 384.40,397.98 384.80,397.97 385.20,397.96 385.60,397.95 386.00,397.94 386.40,397.92 386.80,397.91 387.20,397.89 387.60,397.87 388.00,397.86 388.40,397.84 388.80,397.82 389.20,397.80 389.60,397.78 390.00,397.76 390.40,397.74 390.80,397.71 391.20,397.69 391.60,397.67 392.00,397.65 392.40,397.63 392.80,397.61 393.20,397.58 393.60,397.56 394.00,397.54 394.40,397.51 394.80,397.48 395.20,397.46 395.60,397.43 396.00,397.40 396.40,397.37 396.80,397.34 397.20,397.31 397.60,397.27 398.00,397.24 398.40,397.20 398.80,397.17 399.20,397.13 399.60,397.09 400.00,397.05 400.40,397.01 400.80,396.96 401.20,396.91 401.60,396.85 402.00,396.80 402.40,396.73 402.80,396.67 403.20,396.60 403.60,396.54 404.00,396.47 404.40,396.40 404.80,396.32 405.20,396.25 405.60,396.17 406.00,396.10 406.40,396.02 406.80,395.95 407.20,395.87 407.60,395.80 408.00,395.73 408.40,395.65 408.80,395.57 409.20,395.50 409.60,395.42 410.00,395.34 410.40,395.26 410.80,395.17 411.20,395.09 411.60,395.01 412.00,394.92 412.40,394.83 412.80,394.75 413.20,394.66 413.60,394.57 414.00,394.48 414.40,394.39 414.80,394.29 415.20,394.20 415.60,394.11 416.00,394.01 416.40,393.92 416.80,393.83 417.20,393.73 417.60,393.63 418.00,393.54 418.40,393.43 418.80,393.33 419.20,393.22 419.60,393.11 420.00,392.99 420.40,392.86 420.80,392.73 421.20,392.60 421.60,392.45 422.00,392.30 422.40,392.14 422.80,391.96 423.20,391.78 423.60,391.59 424.00,391.39 424.40,391.17 424.80,390.94 425.20,390.69 425.60,390.41 426.00,390.12 426.40,389.80 426.80,389.46 427.20,389.11 427.60,388.75 428.00,388.38 428.40,388.00 428.80,387.61 429.20,387.20 429.60,386.79 430.00,386.35 430.40,385.90 430.80,385.42 431.20,384.93 431.60,384.41 432.00,383.87 432.40,383.30 432.80,382.69 433.20,382.03 433.60,381.33 434.00,380.59 434.40,379.82 434.80,379.02 435.20,378.20 435.60,377.36 436.00,376.52 436.40,375.68 436.80,374.83 437.20,373.96 437.60,373.06 438.00,372.12 438.40,371.12 438.80,370.06 439.20,368.91 439.60,367.64 440.00,366.26 440.40,364.79 440.80,363.27 441.20,361.72 441.60,360.16 442.00,358.62 442.40,357.06 442.80,355.48 443.20,353.87 443.60,352.24 444.00,350.58 444.40,348.89 444.80,347.17 445.20,345.41 445.60,343.62 446.00,341.80 446.40,339.94 446.80,338.05 447.20,336.14 447.60,334.20 448.00,332.24 448.40,330.25 448.80,328.23 449.20,326.18 449.60,324.10" stroke="#0000ff" stroke-width="1.5"/>
<path d="M353.60,398.10 354.00,398.10 354.40,398.10 354.80,398.10 355.20,398.10 355.60,398.10 356.00,398.10 356.40,398.10 356.80,398.10 357.20,398.10 357.60,398.10 358.00,398.10 358.00,398.10 M363.50,398.10 363.60,398.10 364.00,398.10 364.40,398.10 364.80,398.10 365.20,398.10 365.60,398.10 366.00,398.10 366.40,398.10 366.80,398.10 367.20,398.10 367.60,398.10 368.00,398.10 368.30,398.10 M373.80,398.09 374.00,398.09 374.40,398.09 374.80,398.09 375.20,398.08 375.60,398.08 376.00,398.08 376.40,398.08 376.80,398.07 377.20,398.07 377.60,398.07 378.00,398.06 378.40,398.06 378.60,398.06 M384.10,397.99 384.40,397.98 384.80,397.97 385.20,397.96 385.60,397.95 386.00,397.94 386.40,397.92 386.80,397.91 387.20,397.89 387.60,397.87 388.00,397.86 388.40,397.84 388.80,397.82 388.90,397.81 M394.39,397.51 394.40,397.51 394.80,397.48 395.20,397.46 395.60,397.43 396.00,397.40 396.40,397.37 396.80,397.34 397.20,397.31 397.60,397.27 398.00,397.24 398.40,397.20 398.80,397.17 399.17,397.13 M404.62,396.36 404.80,396.32 405.20,396.25 405.60,396.17 406.00,396.10 406.40,396.02 406.80,395.95 407.20,395.87 407.60,395.80 408.00,395.73 408.40,395.65 408.80,395.57 409.20,395.50 409.33,395.47 M414.71,394.31 414.80,394.29 415.20,394.20 415.60,394.11 416.00,394.01 416.40,393.92 416.80,393.83 417.20,393.73 417.60,393.63 418.00,393.54 418.40,393.43 418.80,393.33 419.20,393.22 419.37,393.17 M424.47,391.13 424.80,390.94 425.20,390.69 425.60,390.41 426.00,390.12 426.40,389.80 426.80,389.46 427.20,389.11 427.60,388.75 428.00,388.38 428.22,388.17 M431.86,384.05 432.00,383.87 432.40,383.30 432.80,382.69 433.20,382.03 433.60,381.33 434.00,380.59 434.33,379.95 M436.72,374.99 436.80,374.83 437.20,373.96 437.60,373.06 438.00,372.12 438.40,371.12 438.60,370.58 M440.25,365.33 440.40,364.79 440.80,363.27 441.20,361.72 441.46,360.69 M442.83,355.36 443.20,353.87 443.60,352.24 443.97,350.70 M445.22,345.34 445.60,343.62 446.00,341.80 446.25,340.65 M447.38,335.27 447.60,334.20 448.00,332.24 448.34,330.57 M449.39,325.17 449.60,324.10" stroke="#ff0000" stroke-width="1.55" stroke-linecap="round"/>
</g>
<g filter="url(#ff)" font-size="24">
<text x="68.40" y="406.85" text-anchor="end">0.0</text>
<text x="68.40" y="324.27" text-anchor="end">0.2</text>
<text x="68.40" y="241.69" text-anchor="end">0.4</text>
<text x="68.40" y="159.11" text-anchor="end">0.6</text>
<text x="68.40" y="76.53" text-anchor="end">0.8</text>
<text x="64.40" y="440.3">10<tspan dx="-1" dy="-13.4" font-size="14">0</tspan></text>
<text x="170.45" y="440.3">10<tspan dx="-1" dy="-13.4" font-size="14">2</tspan></text>
<text x="276.50" y="440.3">10<tspan dx="-1" dy="-13.4" font-size="14">4</tspan></text>
<text x="344.30" y="406.85" text-anchor="end">0.0</text>
<text x="344.30" y="324.27" text-anchor="end">0.2</text>
<text x="344.30" y="241.69" text-anchor="end">0.4</text>
<text x="344.30" y="159.11" text-anchor="end">0.6</text>
<text x="344.30" y="76.53" text-anchor="end">0.8</text>
<text x="340.30" y="440.3">10<tspan dx="-1" dy="-13.4" font-size="14">0</tspan></text>
<text x="446.35" y="440.3">10<tspan dx="-1" dy="-13.4" font-size="14">2</tspan></text>
<text x="552.40" y="440.3">10<tspan dx="-1" dy="-13.4" font-size="14">4</tspan></text>
<path d="M90.60 103.15H144.00" stroke="#0000ff" stroke-width="1.5" stroke-linecap="round"/>
<path d="M90.60 132.4H144.10" stroke="#ff0000" stroke-width="1.4" stroke-linecap="round" stroke-dasharray="4.8 5.5"/>
<text x="149.80" y="111.3"><tspan font-style="italic">E</tspan>=5.9</text>
<text x="149.80" y="140.2"><tspan font-style="italic">E</tspan>=6.0</text>
<path d="M367.30 103.15H420.70" stroke="#0000ff" stroke-width="1.5" stroke-linecap="round"/>
<path d="M367.30 132.4H420.80" stroke="#ff0000" stroke-width="1.4" stroke-linecap="round" stroke-dasharray="4.8 5.5"/>
<text x="426.50" y="111.3"><tspan font-style="italic">E</tspan>=5.9</text>
<text x="426.50" y="140.2"><tspan font-style="italic">E</tspan>=6.0</text>
<text x="251.9" y="97.4" font-size="25.5">(a)</text>
<text x="156.2" y="470.2" font-size="26" font-style="italic">MCS</text>
<text x="434.80" y="470.2" font-size="26" font-style="italic">MCS</text>
<g fill="none" stroke="#000" stroke-linecap="round">
<path d="M9.9,231.3C8.6,231.3 8.1,232.6 8.5,233.9C9.1,235.6 11.2,236.8 13.5,237.7C16.5,238.8 21,239.6 24.9,240.4C27.8,241 30,242.2 30.8,244C31.2,244.9 31.1,245.6 30.6,245.9" stroke-width="1.0"/>
<path d="M12.6,237.4C16.5,238.8 21,239.6 24.9,240.4C26.2,240.7 27.3,241.1 28.2,241.6" stroke-width="2.0"/>
<path d="M15.3,235.3V240.9" stroke-width="0.75"/>
</g>
<circle cx="9.9" cy="231.2" r="0.95"/><circle cx="30.3" cy="245.9" r="0.95"/>
<text transform="translate(36.0 235.0) rotate(-90)" font-size="16.3" font-style="italic">E</text>
<text transform="translate(303.30 245) rotate(-90)" font-size="27" font-style="italic">ρ<tspan dx="-1.3" dy="9.5" font-size="17">C</tspan></text>
</g>
</svg>
</body></html>
